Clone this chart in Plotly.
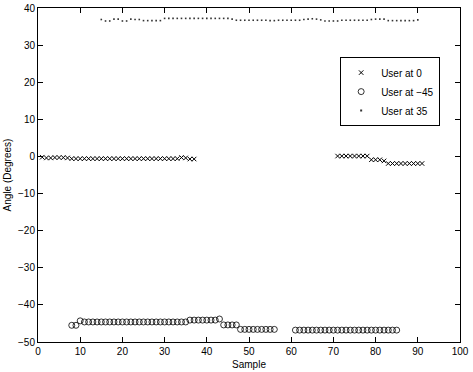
import plotly.graph_objects as go

# User at 0 (x markers)
u0_x = list(range(1, 38)) + list(range(71, 92))
u0_y = ([-0.2, -0.4, -0.4, -0.3, -0.3, -0.3, -0.4] + [-0.6] * 26 + [-0.3, -0.4, -0.7, -0.7]
        + [0.1] * 8 + [-0.9, -0.9, -0.9, -1.2] + [-1.9] * 9)

# User at -45 (circles)
u45_x = list(range(8, 57)) + list(range(61, 86))
u45_y = ([-45.5, -45.5, -44.3] + [-44.6] * 25 + [-44.1] * 7 + [-43.8]
         + [-45.4] * 4 + [-46.6] * 9
         + [-46.8] * 25)

# User at 35 (dots)
u35_x = list(range(15, 92))
u35_y = ([36.9, 36.5, 36.5, 37.0, 37.0, 36.5, 36.5, 37.0, 36.9, 36.9,
          36.6, 36.6, 36.6, 36.6, 36.6]
         + [37.2] * 16
         + [37.0, 36.7, 36.7, 36.7, 36.7, 36.7, 36.7, 36.7, 36.7, 36.6, 36.6,
            36.7, 36.7, 36.7, 36.7, 36.7, 36.7, 36.9, 37.0, 37.1, 37.0, 36.8,
            36.5, 36.5, 36.5, 36.5, 36.7, 36.7, 36.7, 36.7, 36.7, 36.7, 36.7,
            36.9, 37.0, 37.0, 37.0, 36.6, 36.6, 36.6, 36.6, 36.6, 36.6, 36.6, 36.8])

x_ticks = list(range(0, 101, 10))
y_ticks = list(range(-50, 41, 10))

fig = go.Figure()
fig.add_trace(go.Scatter(x=u0_x, y=u0_y, mode="markers", name="User at 0",
                         marker=dict(symbol="x-thin-open", size=4.5, color="black",
                                     line=dict(width=1, color="black"))))
fig.add_trace(go.Scatter(x=u45_x, y=u45_y, mode="markers", name="User at \u221245",
                         marker=dict(symbol="circle-open", size=6, color="black",
                                     line=dict(width=0.8, color="black"))))
fig.add_trace(go.Scatter(x=u35_x, y=u35_y, mode="markers", name="User at 35",
                         marker=dict(symbol="square", size=1.6, color="#333333")))

axis_common = dict(showline=True, linecolor="black", linewidth=1, mirror="ticks",
                   ticks="inside", ticklen=5, tickcolor="black", showgrid=False,
                   zeroline=False, tickfont=dict(size=10, color="black"), automargin=False)
fig.update_xaxes(range=[0, 100], tickvals=x_ticks,
                 title=dict(text="Sample", font=dict(size=10, color="black"), standoff=4),
                 **axis_common)
fig.update_yaxes(range=[-50, 40], tickvals=y_ticks,
                 title=dict(text="Angle (Degrees)", font=dict(size=10, color="black"), standoff=4),
                 **axis_common)

fig.update_layout(
    width=473, height=372,
    margin=dict(l=38, r=13, t=8, b=30),
    paper_bgcolor="white", plot_bgcolor="white",
    font=dict(family="Liberation Sans, Arial, sans-serif", size=10, color="black"),
    showlegend=True,
    legend=dict(x=0.716, y=0.853, xanchor="left", yanchor="top",
                bordercolor="black", borderwidth=1, bgcolor="white",
                font=dict(size=10), itemwidth=30, tracegroupgap=0),
)

fig.write_html("out.html")
